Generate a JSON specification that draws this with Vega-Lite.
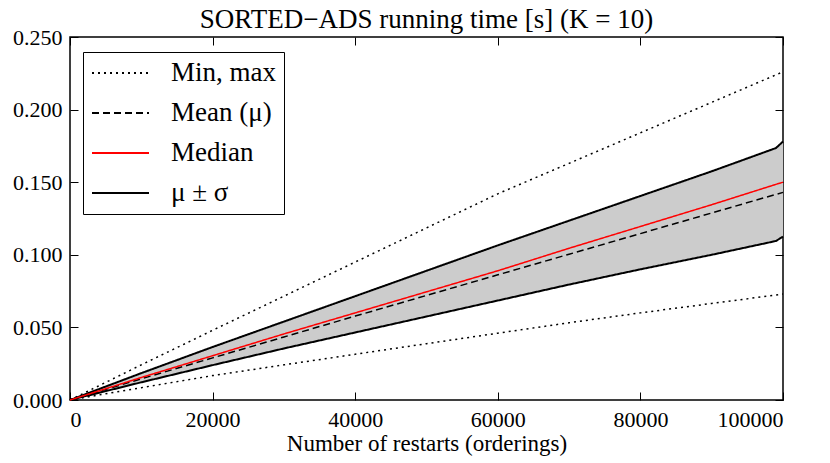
{
  "$schema": "https://vega.github.io/schema/vega-lite/v6.json",
  "width": 713,
  "height": 363,
  "autosize": "none",
  "padding": {"left": 70, "top": 37, "right": 47, "bottom": 63},
  "background": "white",
  "config": {
    "font": "Liberation Serif",
    "view": {"stroke": "black", "strokeWidth": 1.5},
    "axis": {"grid": false, "domain": false, "tickColor": "black", "tickSize": -8, "tickWidth": 1, "labelFont": "Liberation Serif", "labelFontSize": 22, "labelColor": "black", "titleFont": "Liberation Serif", "titleFontSize": 22, "titleFontWeight": "normal", "titleColor": "black"}
  },
  "title": {"text": "SORTED−ADS running time [s] (K = 10)", "font": "Liberation Serif", "fontSize": 27, "fontWeight": "normal", "color": "black", "offset": -8},
  "data": {"values": [
    {"x": 0, "min": 0, "max": 0, "mean": 0, "median": 0, "lo": 0, "hi": 0},
    {"x": 10000, "min": 0.0085, "max": 0.0242, "mean": 0.0146, "median": 0.0155, "lo": 0.0122, "hi": 0.0185},
    {"x": 20000, "min": 0.0168, "max": 0.0480, "mean": 0.0290, "median": 0.0305, "lo": 0.0240, "hi": 0.0365},
    {"x": 30000, "min": 0.0242, "max": 0.0715, "mean": 0.0434, "median": 0.0455, "lo": 0.0355, "hi": 0.0540},
    {"x": 40000, "min": 0.0315, "max": 0.0950, "mean": 0.0578, "median": 0.0600, "lo": 0.0465, "hi": 0.0715},
    {"x": 50000, "min": 0.0388, "max": 0.1185, "mean": 0.0720, "median": 0.0745, "lo": 0.0575, "hi": 0.0890},
    {"x": 60000, "min": 0.0460, "max": 0.1420, "mean": 0.0862, "median": 0.0890, "lo": 0.0685, "hi": 0.1065},
    {"x": 70000, "min": 0.0532, "max": 0.1630, "mean": 0.1004, "median": 0.1045, "lo": 0.0795, "hi": 0.1235},
    {"x": 80000, "min": 0.0600, "max": 0.1840, "mean": 0.1146, "median": 0.1195, "lo": 0.0900, "hi": 0.1405},
    {"x": 90000, "min": 0.0665, "max": 0.2050, "mean": 0.1288, "median": 0.1345, "lo": 0.1000, "hi": 0.1575},
    {"x": 99000, "min": 0.0723, "max": 0.2239, "mean": 0.1416, "median": 0.1485, "lo": 0.1095, "hi": 0.1735},
    {"x": 100000, "min": 0.0730, "max": 0.2260, "mean": 0.1430, "median": 0.1500, "lo": 0.1125, "hi": 0.1780}
  ]},
  "resolve": {"axis": {"x": "independent", "y": "independent"}},
  "layer": [
    {
      "mark": {"type": "area", "color": "#cccccc", "opacity": 1},
      "encoding": {
        "x": {"field": "x", "type": "quantitative", "scale": {"domain": [0, 100000], "nice": false, "zero": false}, "axis": {"orient": "bottom", "values": [0, 20000, 40000, 60000, 80000, 100000], "format": "d", "title": "Number of restarts (orderings)", "titleFontSize": 23, "labelPadding": 17, "titlePadding": 2}},
        "y": {"field": "lo", "type": "quantitative", "scale": {"domain": [0, 0.25], "nice": false}, "axis": {"orient": "left", "values": [0, 0.05, 0.1, 0.15, 0.2, 0.25], "format": ".3f", "title": null, "labelPadding": 16}},
        "y2": {"field": "hi"}
      }
    },
    {
      "mark": {"type": "line", "strokeWidth": 2},
      "encoding": {
        "x": {"field": "x", "type": "quantitative", "axis": {"orient": "top", "values": [0, 20000, 40000, 60000, 80000, 100000], "labels": false, "title": null}},
        "y": {"field": "hi", "type": "quantitative", "axis": {"orient": "right", "values": [0, 0.05, 0.1, 0.15, 0.2, 0.25], "labels": false, "title": null}},
        "color": {"datum": "μ ± σ", "type": "nominal"},
        "strokeDash": {"datum": "μ ± σ", "type": "nominal"}
      }
    },
    {
      "mark": {"type": "line", "strokeWidth": 2},
      "encoding": {
        "x": {"field": "x", "type": "quantitative", "axis": null},
        "y": {"field": "lo", "type": "quantitative", "axis": null},
        "color": {"datum": "μ ± σ", "type": "nominal"},
        "strokeDash": {"datum": "μ ± σ", "type": "nominal"}
      }
    },
    {
      "mark": {"type": "line", "strokeWidth": 1.5},
      "encoding": {
        "x": {"field": "x", "type": "quantitative", "axis": null},
        "y": {"field": "max", "type": "quantitative", "axis": null},
        "color": {"datum": "Min, max", "type": "nominal"},
        "strokeDash": {"datum": "Min, max", "type": "nominal"}
      }
    },
    {
      "mark": {"type": "line", "strokeWidth": 1.5},
      "encoding": {
        "x": {"field": "x", "type": "quantitative", "axis": null},
        "y": {"field": "min", "type": "quantitative", "axis": null},
        "color": {"datum": "Min, max", "type": "nominal"},
        "strokeDash": {"datum": "Min, max", "type": "nominal"}
      }
    },
    {
      "mark": {"type": "line", "strokeWidth": 1.5},
      "encoding": {
        "x": {"field": "x", "type": "quantitative", "axis": null},
        "y": {"field": "mean", "type": "quantitative", "axis": null},
        "color": {"datum": "Mean (μ)", "type": "nominal"},
        "strokeDash": {"datum": "Mean (μ)", "type": "nominal"}
      }
    },
    {
      "mark": {"type": "line", "strokeWidth": 1.5},
      "encoding": {
        "x": {"field": "x", "type": "quantitative", "axis": null},
        "y": {"field": "median", "type": "quantitative", "axis": null},
        "color": {
          "datum": "Median", "type": "nominal",
          "scale": {"domain": ["Min, max", "Mean (μ)", "Median", "μ ± σ"], "range": ["#000000", "#000000", "#ff0000", "#000000"]},
          "legend": {"title": null, "orient": "none", "legendX": 13, "legendY": 15, "strokeColor": "black", "fillColor": "white", "padding": 8, "symbolType": "stroke", "symbolSize": 3249, "symbolStrokeWidth": 2, "clipHeight": 26, "labelFont": "Liberation Serif", "labelFontSize": 27, "labelColor": "black", "labelOffset": 21, "rowPadding": 13, "labelLimit": 300}
        },
        "strokeDash": {
          "datum": "Median", "type": "nominal",
          "scale": {"domain": ["Min, max", "Mean (μ)", "Median", "μ ± σ"], "range": [[2, 4], [7, 4], [1, 0], [1, 0]]},
          "legend": {"title": null, "orient": "none", "legendX": 13, "legendY": 15, "strokeColor": "black", "fillColor": "white", "padding": 8, "symbolType": "stroke", "symbolSize": 3249, "symbolStrokeWidth": 2, "clipHeight": 26, "labelFont": "Liberation Serif", "labelFontSize": 27, "labelColor": "black", "labelOffset": 21, "rowPadding": 13, "labelLimit": 300}
        }
      }
    }
  ]
}
